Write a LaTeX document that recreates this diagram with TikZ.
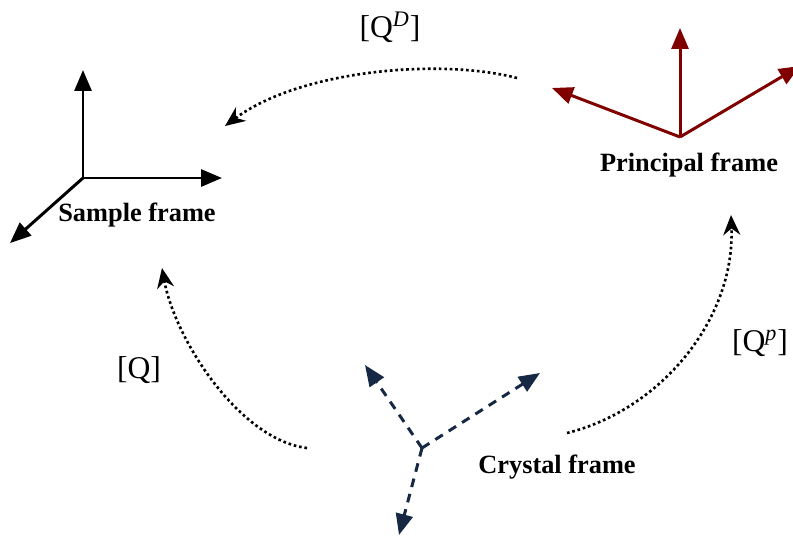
\documentclass[tikz,border=0pt]{standalone}
\usepackage{fontspec}
\setmainfont{Liberation Serif}
\usepackage{xcolor}
\usetikzlibrary{arrows.meta,positioning}
\definecolor{princred}{RGB}{128,0,0}
\definecolor{crysblue}{RGB}{22,40,68}

\begin{document}
\begin{tikzpicture}[x=0.02cm,y=-0.02cm,
 axis/.style={-{Triangle[length=4.2mm,width=3.4mm]},line width=1.7pt},
 caption/.style={font=\fontsize{15}{18}\selectfont\bfseries},
 link/.style={-{Stealth[length=4mm,width=3.4mm]},line width=1.5pt,dash pattern=on 1.5pt off 1.6pt},
 maplabel/.style={font=\fontsize{18}{22}\selectfont}]
\useasboundingbox (0,0) rectangle (793,537);
% sample frame
\coordinate (so) at (83,178);
\coordinate (sz) at (83,70);
\coordinate (sy) at (222,178);
\coordinate (sx) at (10,243);
\draw[axis] (so)--(sz);
\draw[axis] (so)--(sy);
\draw[axis] (so)--(sx);
\node[caption] (sample) at (137,215) {Sample frame};
% principal frame
\coordinate (po) at (680,137);
\coordinate (p1) at (680,28);
\coordinate (p2) at (552,88);
\coordinate (p3) at (800,66);
\draw[axis,princred] (po)--(p1);
\draw[axis,princred] (po)--(p2);
\draw[axis,princred] (po)--(p3);
\node[caption] (principal) at (689,165) {Principal frame};
% crystal frame
\coordinate (co) at (422,448);
\coordinate (c1) at (365,365);
\coordinate (c2) at (540,373);
\coordinate (c3) at (399,535);
\draw[axis,crysblue,dash pattern=on 5pt off 4pt] (co)--(c1);
\draw[axis,crysblue,dash pattern=on 5pt off 4pt] (co)--(c2);
\draw[axis,crysblue,dash pattern=on 5pt off 4pt] (co)--(c3);
\node[caption] (crystal) at (557,467) {Crystal frame};
% mappings
\coordinate (qda) at (517,78);
\coordinate (qdb) at (225,126);
\coordinate (qa) at (307,448);
\coordinate (qb) at (162,268);
\coordinate (qpa) at (567,433);
\coordinate (qpb) at (731,215);
\draw[link] (qda) .. controls (440,58) and (300,70) .. (qdb);
\draw[link] (qa) .. controls (240,440) and (175,340) .. (qb);
\draw[link] (qpa) .. controls (660,410) and (735,320) .. (qpb);
\node[maplabel] (qdlabel) at (390,27) {[Q\textsuperscript{\itshape D}]};
\node[maplabel] (qlabel) at (139,370) {[Q]};
\node[maplabel] (qplabel) at (760,343) {[Q\textsuperscript{\itshape p}]};
\end{tikzpicture}
\end{document}
